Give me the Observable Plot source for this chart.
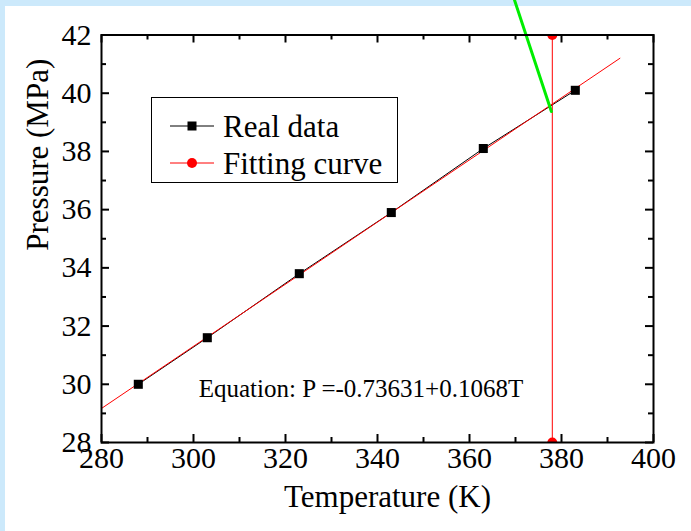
<!DOCTYPE html>
<html>
<head>
<meta charset="utf-8">
<script src="https://cdn.jsdelivr.net/npm/d3@7"></script>
<script src="https://cdn.jsdelivr.net/npm/@observablehq/plot@0.6"></script>
<style>
  html, body { margin: 0; padding: 0; }
  body { width: 691px; height: 531px; background: #cce9fb; position: relative; overflow: hidden; font-family: "Liberation Serif", "Times New Roman", serif; }
  #panel { position: absolute; left: 5px; top: 6px; right: 0; bottom: 0; background: #ffffff; }
  #chart { position: absolute; left: 0; top: 0; }
  #legend { position: absolute; left: 0; top: 0; pointer-events: none; }
</style>
</head>
<body>
<div id="panel"></div>
<div id="chart"></div>
<svg id="legend" width="691" height="531"></svg>
<script>
// ---- data ----
const temperatures = [288, 303, 323, 343, 363, 383];           // K
const pressures    = [30.0, 31.6, 33.8, 35.9, 38.1, 40.1];     // MPa
const fitTemps     = [280, 392.7];                              // fitted line ends
const fitPressures = [29.17, 41.2];
const markerTemp   = 378;                                       // vertical marker
const markerPress  = [28, 42];
const pointerTemps = [369.8, 377.8];                            // green pointer
const pointerPress = [43.19, 39.37];
const xTicks = [280, 300, 320, 340, 360, 380, 400];
const xMinor = [290, 310, 330, 350, 370, 390];
const yTicks = [28, 30, 32, 34, 36, 38, 40, 42];
const yMinor = [29, 31, 33, 35, 37, 39, 41];
const equationText = "Equation: P =-0.73631+0.1068T";
const legendLabels = ["Real data", "Fitting curve"];

const realData = temperatures.map((t, i) => ({T: t, P: pressures[i]}));
const fitData = fitTemps.map((t, i) => ({T: t, P: fitPressures[i]}));
const markerData = markerPress.map(p => ({T: markerTemp, P: p}));
const pointerData = pointerTemps.map((t, i) => ({T: t, P: pointerPress[i]}));

const W = 691, H = 531, mL = 101, mR = 38, mT = 34.5, mB = 89;
const innerW = W - mL - mR, innerH = H - mT - mB;
const major = 8, minor = 5;
const FONT = "Liberation Serif";

const chart = Plot.plot({
  width: W, height: H,
  marginLeft: mL, marginRight: mR, marginTop: mT, marginBottom: mB,
  style: {background: "transparent", fontFamily: FONT, color: "black", overflow: "visible"},
  x: {domain: [280, 400], axis: null},
  y: {domain: [28, 42], axis: null},
  marks: [
    // tick labels
    Plot.text(xTicks, {x: d => d, frameAnchor: "bottom", dy: 25, text: d => String(d), fontSize: 30, fontFamily: FONT, fill: "black"}),
    Plot.text(yTicks, {y: d => d, frameAnchor: "left", dx: -10, textAnchor: "end", text: d => String(d), fontSize: 30, fontFamily: FONT, fill: "black"}),
    // inward ticks on all four sides
    Plot.tickX(xTicks, {x: d => d, insetTop: innerH - major, strokeWidth: 2}),
    Plot.tickX(xMinor, {x: d => d, insetTop: innerH - minor, strokeWidth: 2}),
    Plot.tickX(xTicks, {x: d => d, insetBottom: innerH - major, strokeWidth: 2}),
    Plot.tickX(xMinor, {x: d => d, insetBottom: innerH - minor, strokeWidth: 2}),
    Plot.tickY(yTicks, {y: d => d, insetRight: innerW - major, strokeWidth: 2}),
    Plot.tickY(yMinor, {y: d => d, insetRight: innerW - minor, strokeWidth: 2}),
    Plot.tickY(yTicks, {y: d => d, insetLeft: innerW - major, strokeWidth: 2}),
    Plot.tickY(yMinor, {y: d => d, insetLeft: innerW - minor, strokeWidth: 2}),
    // data
    Plot.line(realData, {x: "T", y: "P", stroke: "black", strokeWidth: 1}),
    Plot.line(fitData, {x: "T", y: "P", stroke: "#ff0000", strokeWidth: 1}),
    Plot.dot(realData, {x: "T", y: "P", symbol: "square", r: 5.1, fill: "black", stroke: null}),
    Plot.line(markerData, {x: "T", y: "P", stroke: "#ff0000", strokeWidth: 1}),
    Plot.dot(markerData, {x: "T", y: "P", r: 5, fill: "#ff0000", stroke: null, clip: true}),
    Plot.line(pointerData, {x: "T", y: "P", stroke: "#00ee00", strokeWidth: 3}),
    Plot.text([equationText], {x: 336.4, y: 29.85, fontSize: 25, fontFamily: FONT, fill: "black"}),
    Plot.frame({stroke: "black", strokeWidth: 2}),
    Plot.text(["Temperature (K)"], {frameAnchor: "bottom", dx: 10, dy: 64, fontSize: 31, fontFamily: FONT, fill: "black"}),
    Plot.text(["Pressure (MPa)"], {frameAnchor: "left", rotate: -90, dx: -63, dy: 12, fontSize: 31, fontFamily: FONT, fill: "black"})
  ]
});
document.getElementById("chart").appendChild(chart);

// ---- legend ----
const lg = d3.select("#legend");
lg.append("rect").attr("x", 151.5).attr("y", 97.5).attr("width", 246).attr("height", 85)
  .attr("fill", "white").attr("stroke", "black").attr("stroke-width", 1);
const rows = [
  {label: legendLabels[0], y: 126, color: "black", sym: "square"},
  {label: legendLabels[1], y: 163, color: "#ff0000", sym: "circle"}
];
rows.forEach(r => {
  lg.append("line").attr("x1", 170).attr("x2", 214).attr("y1", r.y).attr("y2", r.y)
    .attr("stroke", r.color).attr("stroke-width", 1);
  if (r.sym === "square") {
    lg.append("rect").attr("x", 187.5).attr("y", r.y - 4.5).attr("width", 9).attr("height", 9).attr("fill", r.color);
  } else {
    lg.append("circle").attr("cx", 192).attr("cy", r.y).attr("r", 5).attr("fill", r.color);
  }
  lg.append("text").attr("x", 223).attr("y", r.y).attr("dy", "0.35em")
    .attr("font-family", FONT).attr("font-size", 31).attr("fill", "black").text(r.label);
});
</script>
</body>
</html>
